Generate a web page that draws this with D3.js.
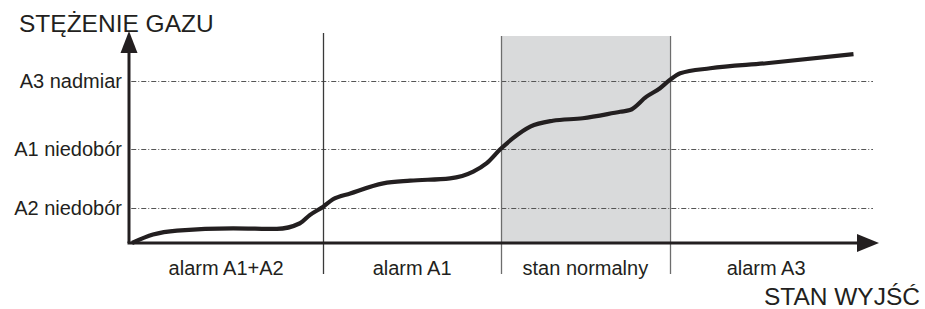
<!DOCTYPE html>
<html>
<head>
<meta charset="utf-8">
<script src="https://cdn.jsdelivr.net/npm/d3@7"></script>
<style>
  body { margin: 0; background: #fff; }
  text { font-family: "Liberation Sans", Arial, sans-serif; fill: #231f20; }
</style>
</head>
<body>
<div id="chart"></div>
<script>
// curve readings (x: 0..100 along output axis, y: gas concentration units)
const curveX = [0.4, 3.2, 6.4, 13.9, 19.7, 22.8, 24.1, 25.9, 27.2, 29.5, 33.9, 37.5, 42.8, 45.9, 47.7, 49.5, 51.2, 53.5, 56.5, 60.5, 65.5, 66.8, 69.0, 70.8, 72.1, 73.5, 77.5, 85.0, 96.6]
const curveY = [0, 4.0, 5.9, 7.0, 6.7, 9.4, 13.3, 17.3, 20.8, 23.6, 28.4, 29.7, 30.8, 34.0, 38.0, 44.6, 49.9, 55.4, 58.2, 59.4, 62.5, 63.3, 69.7, 73.7, 77.6, 80.8, 83.2, 85.6, 89.9]

const thresholdLabels = ["A3 nadmiar", "A1 niedobór", "A2 niedobór"]
const thresholdValues = [77.1, 44.6, 16.7]

const stateLabels = ["alarm A1+A2", "alarm A1", "stan normalny", "alarm A3"]
const stateBounds = [0, 25.9, 49.6, 72.1, 97.8]
const normalState = 2

const yTitle = "STĘŻENIE GAZU"
const xTitle = "STAN WYJŚĆ"

const width = 925
const height = 309

const svg = d3.select('#chart')
  .append('svg')
    .attr('width', width)
    .attr('height', height)

const xScale = d3.scaleLinear().domain([0, 100]).range([129, 879])
const yScale = d3.scaleLinear().domain([0, 100]).range([243, 33])

// normal state band
svg.append('rect')
  .attr('x', xScale(stateBounds[normalState]))
  .attr('y', 36)
  .attr('width', xScale(stateBounds[normalState + 1]) - xScale(stateBounds[normalState]))
  .attr('height', 243 - 36)
  .attr('fill', '#d9dadb')

// threshold dash-dot lines
svg.selectAll('.thr')
  .data(thresholdValues)
  .enter()
  .append('line')
    .attr('x1', xScale(0.3))
    .attr('x2', xScale(99.2))
    .attr('y1', d => Math.round(yScale(d)) + 0.5)
    .attr('y2', d => Math.round(yScale(d)) + 0.5)
    .attr('stroke', '#555')
    .attr('stroke-width', 1)
    .attr('stroke-dasharray', '5,2,1,2')

svg.selectAll('.thrLabel')
  .data(thresholdLabels)
  .enter()
  .append('text')
    .attr('x', 122)
    .attr('y', (d, i) => yScale(thresholdValues[i]) + 7)
    .attr('text-anchor', 'end')
    .attr('font-size', 20)
    .text(d => d)

// state boundaries
svg.selectAll('.bound')
  .data(stateBounds.slice(1, 4))
  .enter()
  .append('line')
    .attr('x1', d => Math.round(xScale(d)) + 0.5)
    .attr('x2', d => Math.round(xScale(d)) + 0.5)
    .attr('y1', (d, i) => i == 0 ? 33 : 36)
    .attr('y2', 274)
    .attr('stroke', (d, i) => i == 0 ? '#3a3a3a' : '#6d6d6d')
    .attr('stroke-width', 1.3)

svg.selectAll('.stateLabel')
  .data(stateLabels)
  .enter()
  .append('text')
    .attr('x', (d, i) => (xScale(stateBounds[i]) + xScale(stateBounds[i + 1])) / 2)
    .attr('y', 275)
    .attr('text-anchor', 'middle')
    .attr('font-size', 20)
    .text(d => d)

// curve
const line = d3.line()
  .x(d => xScale(d[0]))
  .y(d => yScale(d[1]))
  .curve(d3.curveMonotoneX)

svg.append('path')
  .datum(curveX.map((x, i) => [x, curveY[i]]))
  .attr('d', line)
  .attr('fill', 'none')
  .attr('stroke', '#231f20')
  .attr('stroke-width', 4.2)
  .attr('stroke-linejoin', 'round')

// axes with arrows
svg.append('line')
  .attr('x1', xScale(0)).attr('y1', yScale(0))
  .attr('x2', xScale(0)).attr('y2', 50)
  .attr('stroke', '#231f20').attr('stroke-width', 3)
svg.append('line')
  .attr('x1', xScale(0) - 1.5).attr('y1', yScale(0))
  .attr('x2', 860).attr('y2', yScale(0))
  .attr('stroke', '#231f20').attr('stroke-width', 3)

svg.append('path')
  .attr('d', `M${xScale(0)},31 L${xScale(0) + 8.5},53 L${xScale(0) - 8.5},53 Z`)
  .attr('fill', '#231f20')
svg.append('path')
  .attr('d', `M879,${yScale(0)} L857,${yScale(0) - 9} L857,${yScale(0) + 9} Z`)
  .attr('fill', '#231f20')

svg.append('text')
  .attr('x', 19)
  .attr('y', 32)
  .attr('font-size', 24.5)
  .text(yTitle)

svg.append('text')
  .attr('x', 920)
  .attr('y', 305)
  .attr('text-anchor', 'end')
  .attr('font-size', 24.5)
  .text(xTitle)
</script>
</body>
</html>
